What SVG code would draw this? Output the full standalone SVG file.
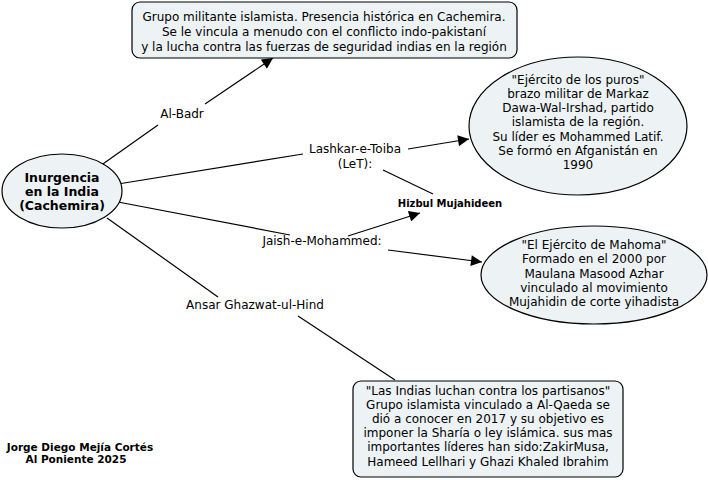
<svg xmlns="http://www.w3.org/2000/svg" width="708" height="480" viewBox="0 0 708 480">
<style>
.node{fill:#edf3f5;stroke:#000;stroke-width:1.2}
.t{font-family:"DejaVu Sans",sans-serif;font-size:12px;fill:#000;text-anchor:middle}
.b{font-weight:bold}
.ln{stroke:#000;stroke-width:1.2;fill:none}
</style>
<defs>
<marker id="ah" viewBox="0 0 10 10" refX="10" refY="5" markerWidth="14" markerHeight="11" markerUnits="userSpaceOnUse" orient="auto">
<path d="M0,0 L10,5 L0,10 z" fill="#000"/>
</marker>
</defs>
<rect width="708" height="480" fill="#fff"/>
<g id="connectors">
<line class="ln" x1="100" y1="166" x2="158" y2="125"/>
<line class="ln" x1="205" y1="104" x2="273" y2="58" marker-end="url(#ah)"/>
<line class="ln" x1="118" y1="184" x2="303" y2="154"/>
<line class="ln" x1="408" y1="149" x2="469" y2="139" marker-end="url(#ah)"/>
<line class="ln" x1="383" y1="170" x2="433" y2="194"/>
<line class="ln" x1="118" y1="202" x2="290" y2="235"/>
<line class="ln" x1="348" y1="236" x2="420" y2="213" marker-end="url(#ah)"/>
<line class="ln" x1="388" y1="250" x2="482" y2="262" marker-end="url(#ah)"/>
<line class="ln" x1="107" y1="218" x2="218" y2="297"/>
<line class="ln" x1="298" y1="316" x2="395" y2="380"/>
<text class="t" x="182" y="118">Al-Badr</text>
<text class="t" x="355" y="153">Lashkar-e-Toiba</text>
<text class="t" x="355" y="168">(LeT):</text>
<text class="t" x="322" y="245">Jaish-e-Mohammed:</text>
<text class="t" x="255" y="309">Ansar Ghazwat-ul-Hind</text>
</g>
<g id="root">
<ellipse class="node" cx="62" cy="191" rx="60" ry="37"/>
<text class="t b" x="62" y="182" style="font-size:12.5px">Inurgencia</text>
<text class="t b" x="62" y="196" style="font-size:12.5px">en la India</text>
<text class="t b" x="62" y="210" style="font-size:12.5px">(Cachemira)</text>
</g>
<g id="albadr">
<rect class="node" x="132" y="2" width="385" height="56" rx="8"/>
<text class="t" x="324" y="21">Grupo militante islamista. Presencia histórica en Cachemira.</text>
<text class="t" x="324" y="36">Se le vincula a menudo con el conflicto indo-pakistaní</text>
<text class="t" x="324" y="51">y la lucha contra las fuerzas de seguridad indias en la región</text>
</g>
<g id="let">
<ellipse class="node" cx="578" cy="126" rx="109" ry="69"/>
<text class="t" x="578" y="84">"Ejército de los puros"</text>
<text class="t" x="578" y="98">brazo militar de Markaz</text>
<text class="t" x="578" y="112">Dawa-Wal-Irshad, partido</text>
<text class="t" x="578" y="126">islamista de la región.</text>
<text class="t" x="578" y="141">Su líder es Mohammed Latif.</text>
<text class="t" x="578" y="155">Se formó en Afganistán en</text>
<text class="t" x="578" y="169">1990</text>
</g>
<g id="hizbul">
<text class="t b" x="450" y="207" style="font-size:10px">Hizbul Mujahideen</text>
</g>
<g id="jem">
<ellipse class="node" cx="594" cy="275" rx="113" ry="49"/>
<text class="t" x="594" y="249">"El Ejército de Mahoma"</text>
<text class="t" x="594" y="263">Formado en el 2000 por</text>
<text class="t" x="594" y="278">Maulana Masood Azhar</text>
<text class="t" x="594" y="292">vinculado al movimiento</text>
<text class="t" x="594" y="306">Mujahidin de corte yihadista</text>
</g>
<g id="ansar">
<rect class="node" x="353" y="381" width="270" height="96" rx="8"/>
<text class="t" x="488" y="395">"Las Indias luchan contra los partisanos"</text>
<text class="t" x="488" y="409">Grupo islamista vinculado a Al-Qaeda se</text>
<text class="t" x="488" y="423">dió a conocer en 2017 y su objetivo es</text>
<text class="t" x="488" y="437">imponer la Sharía o ley islámica. sus mas</text>
<text class="t" x="488" y="451">importantes líderes han sido:ZakirMusa,</text>
<text class="t" x="488" y="466">Hameed Lellhari y Ghazi Khaled Ibrahim</text>
</g>
<g id="author">
<text class="t b" x="80" y="451" style="font-size:10.5px">Jorge Diego Mejía Cortés</text>
<text class="t b" x="76" y="463" style="font-size:10.5px">Al Poniente 2025</text>
</g>
</svg>
